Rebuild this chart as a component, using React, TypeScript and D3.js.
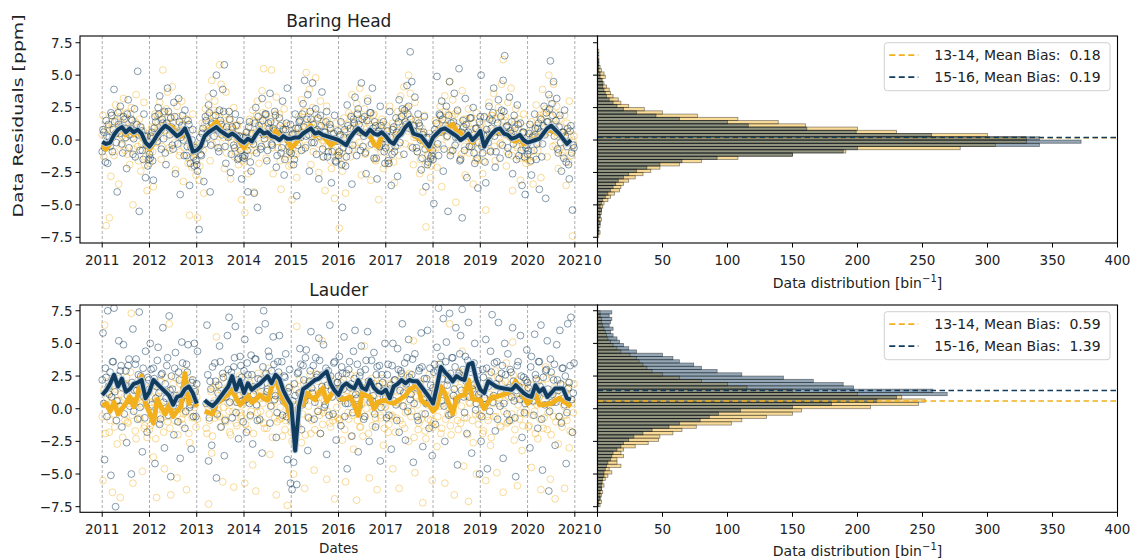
import * as d3 from "d3";
import { useEffect, useRef } from "react";

// ---- data ----
const YEARS = [2011, 2012, 2013, 2014, 2015, 2016, 2017, 2018, 2019, 2020];
const yearTicks = [2011, 2012, 2013, 2014, 2015, 2016, 2017, 2018, 2019, 2020, 2021];
const residualTicks = [-7.5, -5, -2.5, 0, 2.5, 5, 7.5];
const countTicks = [0, 50, 100, 150, 200, 250, 300, 350, 400];
const seriesNames = ["13-14", "15-16"];
const binStart = -7.5;
const binWidth = 0.25;

// monthly mean residuals, Jan 2011 .. Dec 2020
const bhYellowLine = [
  -0.4, -0.7, -0.3, 0.3, 0.9, 0.9, 0.4, 0.8, 0.4, 0.7, 0.3, -0.3,
  -0.7, -0.3, 0.3, 0.7, 1.0, 1.1, 0.9, 0.3, 0.3, 0.7, 0.1, -1.0,
  -0.8, -0.6, 0.2, 0.7, 1.1, 1.4, 0.9, 0.4, 0.2, 0.6, 0.2, -0.2,
  -0.6, 0.0, -0.2, 0.5, 0.9, 0.4, 0.5, 0.2, 0.7, 0.3, 0.3, 0.0,
  -0.6, -0.3, 0.1, 0.5, 0.8, 1.1, 0.3, 0.5, 0.3, 0.0, -0.4, -0.2,
  0.0, -0.3, -0.4, 0.2, 0.6, 0.8, 0.5, 0.6, 0.3, -0.3, -0.5, 0.4,
  0.2, -0.1, -0.2, 0.3, 0.6, 1.1, 1.3, 0.4, 0.2, 0.0, -0.3, -0.7,
  0.1, 0.4, 0.6, 0.8, 1.0, 1.2, 0.7, 0.5, 0.3, 0.2, -0.2, 0.2,
  0.5, -0.3, 0.2, 0.4, 0.7, 0.6, 0.5, 0.3, 0.0, -0.1, 0.2, -0.3,
  -0.2, 0.0, 0.1, 0.2, 0.5, 0.7, 0.8, 0.6, 0.4, 0.1, -0.2, -0.1,
];
const bhBlueLine = [
  -0.15, -0.3, -0.2, 0.4, 0.8, 1.0, 0.6, 0.9, 0.6, 0.8, 0.5, -0.2,
  -0.5, -0.1, 0.4, 0.8, 1.1, 0.9, 0.6, 0.3, 0.5, 0.9, 0.2, -0.9,
  -0.8, -0.5, 0.3, 0.6, 0.8, 1.0, 0.7, 0.5, 0.3, 0.5, 0.3, 0.0,
  -0.2, 0.1, -0.1, 0.4, 0.8, 0.5, 0.6, 0.3, 0.2, 0.0, 0.3, 0.1,
  0.1, 0.2, 0.2, 0.5, 0.7, 0.9, 0.5, 0.6, 0.4, 0.3, 0.2, 0.1,
  0.0, -0.2, -0.4, 0.2, 0.6, 0.9, 0.6, 0.4, 0.8, 0.5, 0.4, 0.6,
  0.3, -0.1, -0.3, 0.2, 0.5, 1.0, 1.3, 0.5, 0.4, 0.3, -0.1, -0.5,
  0.2, 0.5, 0.8, 0.9, 0.7, 0.5, 0.3, 0.0, 0.2, 0.5, 0.0, 0.3,
  0.7, -0.5, 0.1, 0.5, 0.8, 0.9, 0.5, 0.4, 0.1, 0.2, 0.4, 0.0,
  -0.2, -0.1, 0.0, 0.1, 0.5, 0.9, 1.1, 0.8, 0.5, 0.1, -0.3, 0.0,
];
const ldYellowLine = [
  0.2, 0.4, -0.2, 0.5, -0.4, 0.0, 0.4, 0.9, 0.15, 1.0, 2.5, 0.4,
  -0.3, -1.1, 0.7, 0.1, -0.4, 0.3, -0.6, -0.2, 0.15, 2.7, 0.4, 1.2,
  0.15, null, -0.2, -0.3, -0.4, 0.4, 0.6, 0.9, 1.1, 1.45, 0.8, 0.3,
  0.6, 1.05, 0.5, 0.7, 1.05, 0.8, 0.65, 1.6, 2.6, 1.4, 0.6, 0.15,
  -0.9, -0.5, 0.4, 0.3, 1.2, 0.9, 0.7, 1.2, 1.55, 0.55, 1.0, 1.45,
  1.0, 0.7, 0.8, 0.9, 0.3, -0.5, 1.2, 1.0, 0.9, 0.0, 0.5, 0.6,
  0.65, 0.5, 0.4, 0.6, 0.8, 1.0, 1.45, 1.6, 2.1, 0.65, 0.4, 0.3,
  -0.2, 0.15, 1.7, 1.2, 0.4, -0.35, 0.8, 1.0, 1.05, 2.2, 0.8, 0.7,
  0.65, 0.0, 0.5, 0.9, 0.9, 1.0, 1.1, 1.2, 1.55, 2.1, 1.5, 0.9,
  0.4, 0.8, 1.2, 0.3, 0.3, 0.35, 0.4, 0.6, 0.8, 0.6, 0.4, 0.15,
];
const ldBlueLine = [
  1.05, 1.4, 1.9, 2.6, 1.7, 2.3, 1.3, 1.5, 1.9, 2.0, 2.2, 0.8,
  1.3, 2.2, 1.9, 1.6, 1.3, 1.0, 0.3, 0.9, 1.0, 1.5, 1.7, 1.2,
  0.4, null, 0.65, 0.4, 0.2, 0.5, 0.9, 1.3, 1.7, 2.5, 1.45, 2.2,
  1.2, 1.95, 1.45, 1.7, 1.9, 2.2, 2.5, 1.95, 2.6, 2.3, 1.4, 0.8,
  0.3, -3.2, 0.2, 1.5, 1.7, 1.95, 2.2, 2.3, 2.6, 2.85, 1.9, 1.4,
  1.05, 1.7, 1.95, 1.7, 1.55, 2.2, 1.6, 1.45, 2.2, 1.6, 1.3, 1.2,
  1.45, 0.8, 1.7, 1.9, 2.2, 1.95, 2.2, 2.1, 2.1, 1.7, 1.3, 0.9,
  0.4, 1.7, 3.2, 2.8, 2.5, 2.1, 2.5, 2.3, 2.2, 3.4, 3.5, 2.2,
  1.45, 1.2, 2.1, 1.9, 1.7, 1.6, 1.55, 1.5, 1.45, 1.8, 1.5, 1.2,
  1.0, 0.9, 1.8, 1.3, 1.55, 0.9, 1.2, 1.55, 1.55, 1.55, 0.8, 0.7,
];

// individual residuals, one row per year, evenly spread through the year
const bhYellowPts = [
  [1.9, -0.4, -6.6, 0.9, -6.0, -2.8, 1.4, -1.2, 2.7, 0.6, -3.4, 1.8, 0.3, 3.2, -0.8, 2.1, 1.0, -1.9, 2.5, -5.0, 0.7, 3.5, -0.5, 1.6, -2.4, 0.2, 2.9, -1.3, -3.9, 0.5],
  [-0.9, 1.0, -3.6, 2.0, -0.2, 1.4, 2.9, -1.5, 5.4, 0.7, 2.4, 3.7, -0.6, 1.8, 4.1, 0.5, -2.3, 2.6, 1.2, -0.9, 3.0, -3.2, 0.4, 1.6, -1.8, -5.8, -0.4, 2.0, -1.1, -2.7],
  [-6.0, -3.1, -0.5, 1.3, -4.1, 2.4, 0.7, 3.3, -1.6, 4.6, 1.9, 3.0, -0.2, 2.2, 5.8, 4.3, 1.0, -2.2, 3.7, 0.4, 1.6, -3.0, 0.8, 2.5, -0.9, 1.2, -1.9, 0.3, -4.6, -0.7],
  [-5.6, 0.3, -2.6, 1.6, -0.8, 2.3, -4.0, 0.6, 3.0, -1.8, 1.4, 3.8, 5.5, 1.9, -0.3, 2.7, 0.7, 5.4, -2.6, 1.3, 3.3, -0.6, 2.0, -3.8, 0.9, 2.4, -1.3, 1.1, -2.0, 0.1],
  [-4.6, -1.2, 0.6, -2.9, 1.8, 0.3, 3.1, -0.7, 2.2, 5.2, 1.2, 3.9, -1.9, 2.5, 0.6, 4.8, 1.6, -2.5, 3.0, 0.0, 1.4, -3.9, 2.6, -0.5, 1.0, -2.2, 0.4, -4.5, 1.3, -1.0],
  [-6.8, 0.8, -2.4, 1.7, -4.1, 0.1, 2.1, -1.3, 3.5, 0.9, -0.4, 2.8, 1.5, 4.0, -2.7, 0.6, 2.4, -0.9, 3.2, 1.2, -3.1, 0.5, 2.0, -1.6, 1.1, -4.6, -0.2, 1.6, -2.2, 0.3],
  [1.1, -1.8, 2.6, -0.5, 1.3, -3.3, 0.4, 2.2, -1.2, 3.4, 1.0, 4.1, -0.3, 2.5, 5.0, 3.6, 0.8, -1.9, 2.9, 0.2, 1.5, -2.6, 0.6, -4.0, 1.9, -6.7, -1.1, 0.5, -2.9, -0.4],
  [-0.6, 1.5, -2.1, 0.8, 2.6, -3.6, 1.3, 3.4, 0.2, 2.0, 4.5, -0.9, 3.1, 1.1, -4.8, 2.2, 0.6, -1.4, 3.8, 1.6, -2.7, 0.9, 2.4, -0.5, 1.7, -3.4, 0.4, 2.1, -1.5, 0.7],
  [0.9, -2.6, 1.7, -5.4, 0.3, 2.9, -0.8, 1.9, 3.6, -1.6, 0.6, 2.5, -0.3, 4.3, 6.2, 1.5, -2.0, 2.9, 0.4, 4.0, -3.9, 1.2, 2.4, -0.6, 1.6, -3.1, 0.5, 2.0, -1.4, -0.2],
  [0.2, -1.7, 1.4, -3.4, 0.7, 2.7, -0.8, 1.9, -2.9, 3.9, 0.5, 2.4, -1.3, 5.0, 3.2, 1.2, 4.3, -0.4, 2.6, -2.2, 1.6, 0.4, -1.0, 1.9, -3.5, 0.6, 3.0, -1.2, -7.4, 0.3],
];
const bhYellowDense = [
  [0.4, -1.3, -0.6, 1.1, -0.2, 0.8, 1.9, 0.3, -0.9, 1.5, 0.6, 2.2, -0.4, 1.2, 0.1, 1.7, -1.1, 0.9, 2.0, 0.2, -0.7, 1.4, 0.5, -1.6, 1.0, -0.3, 0.7, -1.9, 0.2, -0.8],
  [-1.8, 0.2, -0.9, 1.0, 0.4, 1.9, 0.8, 1.5, -0.5, 2.1, 1.1, 0.3, 1.7, -0.8, 0.9, 1.3, -0.2, 0.6, 1.8, -1.2, 0.4, 1.2, -0.6, 1.6, 0.1, -1.4, 0.7, -2.1, -0.5, -1.0],
  [-1.5, -0.4, -2.0, 0.6, -0.8, 1.2, 0.3, 1.9, 0.9, 1.4, -0.3, 2.3, 1.1, 0.5, 1.8, -0.6, 1.3, 0.2, 2.0, -1.0, 0.8, 1.5, -0.2, 0.9, -1.3, 0.4, 1.1, -0.7, 0.3, -1.6],
  [-1.7, -0.5, 0.6, -1.2, 0.9, 0.1, 1.5, -0.8, 1.9, 0.4, -0.3, 1.2, 2.1, 0.6, -1.4, 1.0, 0.3, 1.6, -0.6, 0.8, 2.0, -0.1, 0.5, -1.6, 1.3, -0.4, 0.7, -1.1, 0.2, -0.7],
  [-1.9, -0.6, 0.4, -1.1, 0.9, -0.2, 1.6, 0.6, 2.2, 1.0, -0.4, 1.8, 0.3, 1.3, -0.9, 0.7, 2.0, -0.3, 1.1, 0.2, -1.3, 0.8, -0.5, 1.5, -0.1, -1.6, 0.5, -0.8, 0.1, -1.2],
  [-1.4, 0.3, -1.0, -1.8, 0.6, -0.3, 1.2, 0.2, 1.9, -0.7, 1.4, 0.8, 2.1, -0.2, 1.0, 0.5, 1.7, -1.1, 0.9, 1.5, -0.4, 0.6, 1.9, -1.5, 0.2, -0.6, 1.3, -0.9, 0.7, 0.1],
  [-0.2, 0.9, -1.4, -0.6, 0.8, -1.7, 0.3, 1.2, -0.4, 1.7, 0.6, 2.0, 1.3, 2.4, 0.7, 1.8, -0.5, 1.1, 0.2, 1.5, -0.9, 0.6, -1.5, 0.9, -0.3, -1.9, 0.1, -1.2, -0.6, -2.0],
  [-1.3, 0.4, -0.6, 1.2, 0.7, 1.9, -0.4, 1.5, 2.2, 0.3, 1.1, -0.8, 1.8, 0.6, 2.0, -0.2, 1.3, 0.5, -1.1, 0.9, -0.5, 1.6, 0.1, -1.0, 0.8, -0.3, 1.3, -1.6, 0.4, -0.7],
  [1.2, -0.3, -1.6, 0.5, -0.8, 1.3, 0.2, 1.9, 0.7, -0.5, 1.6, 0.9, 2.1, -0.2, 1.4, 0.4, 1.8, -0.9, 1.0, 0.3, -1.2, 0.6, 1.5, -0.4, 0.8, -1.4, 0.2, -0.6, 1.0, -1.8],
  [-1.5, 0.2, -0.9, 0.8, -1.3, 0.4, 1.1, -0.2, 1.7, 0.5, 2.0, 0.9, 1.4, 2.3, 0.6, 1.8, -0.5, 1.2, 2.0, 0.3, -0.8, 1.0, -1.2, 0.6, -0.3, 1.3, -1.7, 0.4, -0.9, -0.2],
];
const bhBluePts = [
  [0.8, -0.6, 1.5, -1.8, 0.2, 2.1, -0.9, 3.9, 0.5, -4.0, 1.2, 2.6, -0.3, 1.8, 0.9, -2.2, 3.1, 0.4, 1.6, -1.1, 2.4, 0.7, 5.3, -5.5, 1.0, -0.8, 2.0, -2.9, 0.3, -1.5],
  [-1.4, 0.6, -3.1, 1.8, 0.2, 2.5, 3.4, -0.7, 1.3, 2.2, -1.9, 4.0, 0.9, 1.7, -0.4, 2.9, -2.6, 0.6, 3.2, -4.2, 1.1, 0.0, 2.3, -1.2, 1.5, -3.5, -0.6, 0.8, -2.0, -1.6],
  [-2.4, -6.9, -1.1, 0.5, -3.2, 1.8, 0.2, 2.7, -4.0, 1.3, 3.6, 0.9, 5.0, -0.6, 2.3, 1.2, 3.9, 5.8, -1.8, 0.6, 2.2, -2.5, 1.0, -0.4, 2.0, 0.3, -1.4, 1.5, -3.0, 0.2],
  [-1.2, 0.6, -4.0, 1.4, -2.4, 0.0, -4.1, 2.5, -5.2, 1.1, -0.7, 3.2, 0.4, 2.0, -1.6, 1.3, 3.6, -0.3, 0.9, 2.2, -2.1, 0.5, 1.7, -1.0, 3.0, -2.7, 0.8, 4.0, -0.5, 1.2],
  [0.4, -1.9, 2.0, -4.3, 0.9, 1.5, -0.8, 2.8, 4.6, 0.3, 3.5, -2.4, 1.6, 4.4, -0.2, 2.4, 0.8, -3.0, 1.9, 3.7, -1.3, 0.6, 2.2, -0.9, 1.2, -3.3, 0.1, 1.9, -1.7, 0.7],
  [-0.9, 1.4, -5.2, 0.2, -2.0, 2.7, -0.8, 0.9, -3.4, 1.6, 3.3, -1.2, 2.4, 0.6, 4.4, -0.5, 1.8, -2.6, 3.0, 0.4, 2.1, 4.0, -1.4, 1.1, -3.0, 0.7, 2.6, -0.3, 1.4, -1.8],
  [0.3, -1.6, 2.2, -3.5, 0.8, -0.9, 1.7, -2.8, 3.1, 0.5, 2.4, -1.1, 1.4, 4.2, 2.6, 6.8, 4.5, 0.7, 3.3, -0.6, 2.0, 1.1, -2.3, 0.4, 1.8, -3.6, -1.9, 0.2, -1.4, -0.8],
  [-4.9, 0.5, 4.9, -1.2, 1.9, 3.0, -2.4, 0.8, 2.6, -5.5, 4.5, 1.3, -0.8, 3.6, 0.2, 2.3, 5.5, -1.5, -6.0, 1.0, 3.2, -2.9, 0.6, 1.7, -0.5, 2.5, -1.8, 0.9, -3.7, 1.4],
  [5.0, -1.0, 1.8, -3.3, 0.4, 2.6, -0.9, 1.5, 4.0, -2.1, 0.7, 3.1, -1.4, 2.3, 4.6, 6.5, 1.0, -0.6, 3.3, 0.5, -2.6, 1.9, 0.2, 2.7, -1.2, 1.3, -3.5, 0.6, -4.2, -0.4],
  [-0.8, 1.2, -2.7, 0.3, 2.0, -1.5, 0.9, -3.8, 1.6, -0.3, 2.6, -4.5, 1.4, 3.5, 6.1, 2.8, 4.5, 0.8, 3.2, -1.0, 1.9, -2.4, 0.6, 2.3, -1.7, 0.9, -3.0, 1.1, -5.4, -0.6],
];
const bhBlueDense = [
  [-0.9, 0.6, -1.7, 0.3, 1.2, -0.5, 1.9, 0.8, 1.4, -0.2, 2.1, 0.5, 1.0, -1.0, 1.6, 0.2, 2.0, -0.6, 0.9, 1.5, 0.1, -1.3, 1.2, 0.4, -0.8, 0.7, -1.5, 0.3, -0.4, -2.0],
  [-1.1, 0.3, -1.6, 0.9, 1.4, -0.1, 2.0, 0.7, 1.6, 0.1, -1.0, 1.3, 2.2, 0.4, 1.0, -0.7, 1.8, 0.5, -0.3, 1.4, 0.2, 1.9, -1.2, 0.8, -0.5, 1.2, -1.8, 0.0, -1.3, -0.6],
  [-1.9, -0.7, 0.2, -1.2, 0.9, -0.3, 1.5, 0.6, 2.1, -0.4, 1.2, 0.3, 1.9, 0.8, -0.9, 1.5, 0.4, 2.2, -0.5, 1.0, 0.2, 1.6, -1.1, 0.5, -0.6, 1.1, -1.5, 0.3, -0.8, -1.3],
  [-1.4, 0.2, -0.8, 1.0, -1.7, 0.5, -0.3, 1.3, -1.0, 1.8, 0.6, -0.5, 1.5, 0.1, 2.0, -0.8, 0.9, 1.4, -0.4, 0.7, 1.9, -1.2, 0.4, 1.1, -0.6, 0.8, -1.5, 1.3, 0.0, -0.9],
  [-1.0, 0.5, -1.5, 0.9, -0.4, 1.4, 0.2, 2.0, 1.0, -0.6, 1.6, 0.4, 2.2, -0.2, 1.2, 0.7, -1.1, 1.7, 0.3, 1.1, -0.7, 0.6, 1.4, -1.3, 0.2, 0.9, -0.9, 0.5, -1.6, -0.1],
  [-1.2, 0.4, -1.9, -0.6, 0.8, -1.3, 1.1, 0.2, 1.8, -0.4, 1.3, 0.7, 2.0, 1.2, -0.8, 1.6, 0.3, -1.0, 1.5, 0.6, 2.1, -0.3, 0.9, 1.4, -1.4, 0.5, -0.5, 1.1, 0.1, -0.9],
  [-0.6, 0.7, -1.8, 0.2, -1.1, 1.0, -0.5, 0.6, 1.4, -0.2, 1.8, 0.8, 2.3, 1.2, 2.0, 0.9, 1.6, -0.6, 1.1, 0.4, -0.9, 1.3, 0.0, -1.4, 0.6, -0.7, 0.2, -1.7, -0.3, -1.2],
  [-1.5, 0.8, 1.3, -0.3, 2.0, 0.6, 1.6, -0.7, 1.1, 0.3, 1.9, -1.2, 0.8, 1.4, -0.4, 1.0, 0.2, -1.6, 0.6, 1.5, -0.8, 1.2, 0.3, -0.5, 1.7, 0.1, -1.0, 0.9, -1.4, -0.2],
  [1.8, -0.5, 0.4, -1.7, 0.8, -0.2, 1.6, 0.9, 2.1, 0.3, -0.9, 1.3, 0.6, 1.8, -0.4, 2.2, 0.5, 1.1, -1.1, 0.7, 1.4, -0.3, 0.9, -1.5, 1.2, 0.0, -0.8, 0.6, -1.3, -0.6],
  [-1.1, 0.5, -1.6, 0.2, -0.8, 0.9, -0.3, 1.3, 0.6, -1.3, 1.1, 0.4, 2.1, 1.4, 2.4, 0.8, 1.9, 0.3, 1.5, -0.7, 1.0, -0.2, 0.6, -1.4, 0.3, -0.5, -1.9, 0.7, -1.0, -0.4],
];
const ldYellowPts = [
  [-5.5, 6.4, 0.3, 1.2, -1.8, 0.9, -6.4, -0.4, 1.5, -2.7, 0.6, -6.8, 0.2, 1.9, -0.9, 2.4, -1.1, 0.8, 7.3, -5.7, 0.6, -2.3, 1.8, -0.7, 0.4, -4.8, -1.5, 0.9, -2.2, 1.2],
  [-1.3, 0.9, -3.7, 0.4, -6.8, 1.7, -0.5, 2.1, -0.2, -4.6, 1.3, -1.0, 6.5, -6.6, -0.2, 0.8, 2.4, -5.3, -1.0, 1.9, -0.8, -0.4, 2.9, -6.2, 0.6, -2.6, 1.3, -0.6, 0.1, -1.4],
  [-0.8, null, null, null, null, null, -1.9, -7.3, 0.3, -3.4, 1.6, -0.7, 5.5, -0.1, -0.6, 1.4, -5.6, 0.9, -1.0, 2.5, -0.2, -2.0, 1.8, -6.0, 0.5, -1.3, 1.9, -0.3, -0.5, 1.2],
  [-5.7, 0.7, -1.6, 2.0, -0.2, -4.3, 1.4, -6.3, -0.3, 1.2, -0.2, 0.8, -1.1, 2.6, -1.5, 3.1, -3.5, 0.2, 1.6, -0.7, -6.6, 0.9, -0.8, 1.4, -2.1, 1.3, -0.9, -7.4, 0.4, -1.0],
  [-2.5, -5.0, 0.3, 6.3, -1.4, 1.2, -2.6, 0.8, -6.1, 1.7, -0.6, 2.0, -1.9, 1.1, -4.7, 2.7, -0.2, 0.4, -1.9, 5.2, -0.3, 1.6, -5.4, 0.9, -1.1, 2.1, -0.9, -6.9, 1.5, -0.7],
  [-0.9, 2.0, -2.4, 0.6, -5.6, 1.4, -0.8, 2.6, -0.5, -3.1, 1.0, -7.0, 1.6, -1.4, 0.3, -2.1, 4.8, 0.0, 1.8, -5.3, 0.5, -1.3, 1.9, -0.7, -6.2, 1.2, -0.5, 2.3, -2.8, 0.1],
  [0.8, -1.8, 1.9, -0.6, -4.6, 1.4, -0.7, 0.5, -6.1, 2.0, -1.2, 1.3, -0.3, 2.5, -2.5, 1.8, -0.2, 5.2, -4.9, 0.9, -1.6, 2.1, -0.8, -7.2, 1.1, -2.3, 0.3, 2.6, -0.9, -5.5],
  [-1.0, 1.6, -2.9, 3.4, 0.2, -1.5, 2.7, -5.7, 1.0, -0.4, 6.5, -2.0, 0.6, -6.6, 2.3, -0.9, 2.8, -1.1, 4.4, -4.4, 1.3, -0.7, -7.1, 0.4, 1.9, -2.6, 0.8, -5.0, 1.7, -0.5],
  [0.3, -1.9, 1.5, -5.5, -0.6, 2.6, -2.8, 0.9, -0.6, 2.9, -4.9, 0.4, -1.3, 1.9, -6.4, 0.6, 3.5, -1.0, 1.2, -0.9, 5.1, -2.4, 0.8, -5.9, 2.2, -0.3, -3.2, 1.6, -0.4, 2.0],
  [-1.4, 1.1, -4.5, 0.5, -0.2, 2.2, -2.3, 0.9, -6.2, 1.8, -0.7, 3.2, -1.6, 0.3, -5.4, 2.4, -0.6, -6.9, 1.0, -2.7, 0.6, -1.0, 1.8, -6.1, -0.5, 1.5, -3.0, 0.7, -1.8, 1.9],
];
const ldYellowDense = [
  [-0.6, 1.4, -1.9, 0.8, 2.1, -0.9, 0.3, 1.7, -1.4, 0.6, 2.3, -0.3, 1.1, -2.2, 0.9, 1.9, -1.0, 0.4, 2.8, -0.5, 1.5, -1.7, 0.7, 2.2, -0.8, 0.2, 1.3, -1.3, 0.5, 1.6],
  [-1.6, 0.5, -0.4, 1.8, -2.3, 0.9, -1.1, 1.4, 0.2, -1.8, 2.4, -0.6, 1.2, -1.5, 0.4, 1.9, -0.9, 0.7, -2.0, 1.1, 0.0, -1.2, 1.6, -0.3, 0.8, -1.9, 2.2, -0.7, 0.3, 1.5],
  [0.9, null, null, null, null, null, -1.5, 0.2, -0.9, 1.3, -2.1, 0.6, 1.8, -0.5, 1.0, -1.4, 2.3, 0.1, -0.8, 1.6, 0.4, -1.8, 2.0, -0.2, 1.2, -1.1, 0.7, 2.5, -0.6, 0.3],
  [1.2, -1.2, 0.5, 2.3, -0.6, 1.0, -1.9, 1.6, 0.2, 2.7, -0.9, 1.3, 0.4, -1.5, 2.0, 0.8, -0.4, 1.8, -2.2, 0.6, 1.4, -1.0, 2.5, 0.1, -0.7, 1.1, -1.6, 0.9, -0.3, 1.7],
  [-1.8, 0.3, -0.7, 1.5, -1.3, 2.2, 0.5, -0.4, 1.9, -2.0, 1.0, 0.2, 2.6, -0.9, 1.4, -1.6, 0.8, 2.1, -0.5, 1.2, -1.2, 0.6, 1.8, -0.2, 2.4, -1.4, 0.9, -0.6, 1.3, 0.1],
  [1.5, -0.8, 0.6, 2.2, -1.6, 0.9, -0.3, 1.7, -2.1, 1.1, 0.3, 2.5, -0.9, 1.3, -1.4, 0.5, 2.0, -0.6, 1.6, -1.9, 0.8, 2.3, -0.2, 1.0, -1.2, 0.4, 1.9, -0.7, 1.2, -1.5],
  [0.2, 1.6, -1.2, 0.9, -0.5, 2.1, -1.8, 1.3, 0.4, -0.9, 2.4, 0.7, -1.5, 1.8, 0.1, 2.7, -0.6, 1.5, -2.2, 1.0, 0.3, -1.1, 1.9, -0.4, 0.8, -1.7, 1.2, -0.8, 0.5, -1.3],
  [-1.4, 0.7, 2.2, -0.6, 1.5, -1.9, 0.4, 1.8, -0.8, 2.6, 0.1, -1.3, 1.2, -0.3, 2.0, 0.6, -1.6, 1.6, 0.2, 2.8, -0.7, 1.0, -2.0, 0.5, 1.7, -0.9, 1.3, -0.4, 0.8, -1.2],
  [-0.5, 1.3, -1.7, 0.6, 2.0, -0.9, 1.1, -2.2, 0.4, 1.7, -0.6, 2.4, 0.8, -1.4, 1.5, -0.2, 2.1, -1.1, 0.9, 1.8, -0.4, 2.6, -1.6, 1.2, 0.3, -0.8, 1.6, -1.3, 0.7, -0.1],
  [0.6, -1.3, 1.8, -0.5, 1.1, -1.9, 0.3, 2.1, -0.8, 1.4, -1.5, 0.7, 2.3, -0.3, 1.2, -2.0, 0.5, 1.6, -1.0, 0.9, -0.6, 1.9, -1.4, 0.2, 1.3, -0.9, 2.0, -1.7, 0.4, -0.3],
];
const ldBluePts = [
  [5.8, -3.9, 2.4, 7.5, 1.1, -5.1, 3.6, 7.7, -7.5, 0.6, 5.2, 2.9, -1.4, 4.9, 1.8, -2.6, 3.3, 0.2, -5.0, 6.1, 1.4, 3.8, -0.8, 7.4, 2.5, -3.3, 0.9, 4.4, -1.8, 2.2],
  [5.0, 0.3, 3.1, -4.2, 1.7, 4.7, -1.2, 2.6, 6.2, -3.0, 0.8, 3.9, 7.1, -5.2, 1.5, -2.0, 4.3, 0.5, 2.8, -3.8, 5.1, 1.0, -1.5, 3.4, 4.9, 0.1, -3.1, 2.2, 5.0, -0.6],
  [4.4, null, null, null, null, null, 6.4, -4.0, 2.1, -2.8, 0.4, 3.5, -5.3, 1.2, 4.8, -1.4, 2.7, -3.6, 0.9, 5.6, 7.0, 1.8, -0.7, 3.2, 6.3, 0.5, -2.3, 4.0, 2.4, -1.0],
  [5.3, -1.8, 2.6, 0.4, 4.1, -2.7, 1.7, 3.8, -0.9, 6.0, 2.2, -3.4, 7.5, 6.5, 1.3, 4.4, -1.1, 2.9, 5.5, 0.7, -2.2, 3.6, 5.6, 1.0, -0.5, 2.5, 4.2, -3.9, 1.6, -5.7],
  [-6.2, -4.1, 1.0, -5.8, 2.8, 4.6, -1.6, 3.3, 0.6, 4.5, -3.2, 2.1, 5.9, 1.2, -0.8, 3.9, 2.6, 5.4, -1.9, 1.7, 4.9, 0.3, -3.5, 2.9, 6.4, 1.4, -0.4, 3.6, -2.4, 2.0],
  [4.0, -1.3, 2.7, 5.5, 0.4, -4.6, 3.0, 1.6, -2.1, 4.4, 6.0, 0.8, -3.3, 2.5, 4.8, 1.1, -0.6, 3.7, 5.9, -2.5, 2.0, 0.6, 4.3, -1.4, 3.2, 1.7, -4.0, 2.6, 0.9, 5.0],
  [-0.7, 3.4, 1.5, -3.1, 5.0, 2.2, 0.3, 4.6, -1.8, 2.9, 6.5, 1.2, -2.4, 3.9, 5.3, 0.7, 2.6, -4.1, 4.2, 1.6, -0.9, 3.1, 5.8, -2.9, 2.3, 0.4, 6.0, -1.5, 1.8, -3.6],
  [2.8, -1.2, 4.7, 7.7, 3.4, 0.6, 6.9, -2.5, 5.1, 2.2, 7.3, -0.4, 3.9, 1.5, 6.2, -4.3, 2.7, 5.6, 7.6, 0.9, 4.0, -1.9, 6.6, 3.1, -3.4, 1.8, 5.0, 0.4, 2.9, -5.0],
  [-2.5, 3.0, 0.8, 5.3, -4.6, 2.1, 4.4, 7.2, 1.0, -1.7, 3.6, 6.6, 0.2, 2.7, -3.8, 5.0, 1.5, 4.2, -0.9, 2.8, 6.2, 0.6, -5.2, 3.3, 1.7, 5.6, -2.2, 2.4, 0.4, 4.5],
  [1.6, -3.0, 4.0, 0.6, 5.7, 2.3, -1.5, 3.6, 6.4, -4.7, 1.2, 2.9, 5.2, -6.3, 3.8, 0.5, 2.2, -2.8, 4.9, 1.4, 6.0, -1.1, 3.1, 0.3, -4.2, 6.5, 2.0, 7.0, -1.8, 3.5],
];
const ldBlueDense = [
  [2.2, 0.4, 3.1, -0.6, 1.7, 2.8, 0.9, 3.6, 1.3, -0.9, 2.5, 0.2, 3.3, 1.6, -0.4, 2.9, 1.0, 3.8, 0.6, 2.0, -0.2, 3.4, 1.4, 2.6, 0.1, 1.9, 3.1, -0.7, 1.2, 2.4],
  [1.5, 3.0, -0.3, 2.3, 0.8, 3.7, 1.2, -0.8, 2.7, 0.5, 1.9, 3.3, -0.5, 1.4, 2.5, 0.2, 3.1, 1.0, -1.0, 2.2, 0.7, 3.5, 1.6, -0.2, 2.8, 1.1, 0.3, 2.0, -0.6, 1.3],
  [1.9, null, null, null, null, null, 0.4, 2.6, -0.7, 1.5, 3.2, 0.1, 2.1, -0.4, 1.8, 3.6, 0.8, 2.4, -0.9, 1.2, 3.0, 0.5, 2.8, 1.4, 3.9, -0.3, 2.2, 1.0, 3.3, 0.6],
  [2.9, 0.7, 3.5, 1.4, -0.5, 2.6, 1.1, 3.8, 0.3, 2.3, -0.8, 1.8, 3.2, 0.9, 2.7, 1.5, 4.0, 0.2, 2.1, 3.4, 1.0, -0.3, 2.8, 1.6, 3.6, 0.6, 2.4, -0.6, 1.3, 3.0],
  [-0.9, 0.6, 1.9, -0.4, 2.7, 1.2, 3.4, 0.3, 2.2, 3.9, 1.0, -0.7, 2.9, 1.6, 3.3, 0.5, 2.4, -0.2, 3.7, 1.3, 2.6, 0.1, 3.1, 1.8, -0.5, 2.5, 0.9, 3.5, 1.4, 2.0],
  [2.5, 0.8, 3.2, 1.5, -0.6, 2.7, 0.4, 3.6, 1.9, -0.3, 2.3, 1.1, 3.4, 0.2, 2.8, 1.6, -0.8, 3.0, 1.3, 2.1, 0.5, 3.7, 1.0, -0.4, 2.6, 1.7, 3.3, 0.1, 2.0, 1.4],
  [0.9, 2.6, -0.5, 1.8, 3.3, 0.6, 2.2, -0.9, 3.0, 1.4, 2.7, 0.2, 3.5, 1.9, -0.2, 2.4, 1.1, 3.8, 0.4, 2.0, -0.6, 2.9, 1.5, 3.2, 0.7, -0.4, 2.3, 1.2, 3.1, 0.3],
  [1.6, 3.4, 0.5, 2.9, 1.2, 4.0, 2.3, 0.2, 3.6, 1.8, -0.5, 2.7, 3.9, 1.0, 3.2, 0.7, 2.5, 4.2, 1.4, 3.0, -0.3, 2.1, 3.7, 0.9, 2.8, 1.5, 3.5, -0.1, 2.2, 1.1],
  [1.3, -0.6, 2.4, 0.8, 3.1, 1.7, -0.2, 2.8, 0.5, 3.5, 1.9, -0.8, 2.3, 1.2, 3.3, 0.4, 2.6, -0.4, 1.6, 3.0, 0.9, 2.1, -0.7, 1.4, 3.6, 0.7, 2.5, 1.0, -0.3, 2.2],
  [2.0, 0.6, 3.2, 1.3, -0.5, 2.6, 0.9, 3.6, 1.7, -0.8, 2.4, 0.3, 3.0, 1.5, -0.2, 2.8, 1.1, 3.4, 0.5, 2.2, -0.6, 1.9, 3.1, 0.8, 2.5, -0.3, 1.6, 3.3, 0.7, 1.2],
];

// histogram counts, 0.25 ppm bins from -7.5 up to 7.5
const bhYellowHist = [
  1, 2, 1, 2, 2, 3, 2, 3, 3, 4,
  5, 8, 10, 13, 17, 18, 20, 24, 29, 35, 41, 48,
  63, 80, 108, 150, 191, 279, 306, 330, 330, 300, 230, 200,
  160, 139, 108, 77, 50, 36, 24, 18, 16, 12, 10, 9,
  7, 5, 4, 6, 5, 3, 2, 1, 1, 1, 0, 1, 0, 0,
];
const bhBlueHist = [
  0, 1, 1, 1, 2, 1, 2, 2, 3, 2,
  3, 4, 6, 8, 10, 12, 14, 16, 20, 24, 30, 38,
  48, 65, 92, 150, 189, 200, 340, 372, 340, 257, 199, 161,
  116, 100, 63, 45, 30, 20, 15, 12, 9, 7, 6, 5,
  4, 4, 3, 2, 2, 1, 1, 1, 1, 0, 1, 0, 0, 0,
];
const ldYellowHist = [
  2, 3, 2, 3, 4, 3, 5, 4, 6, 8,
  11, 9, 18, 15, 15, 20, 18, 20, 29, 39, 47, 48,
  58, 65, 76, 103, 111, 130, 150, 157, 210, 247, 252, 234,
  200, 150, 115, 100, 80, 63, 50, 42, 38, 35, 32, 30,
  25, 18, 15, 12, 10, 8, 7, 6, 5, 4, 3, 3, 2, 2,
];
const ldBlueHist = [
  1, 1, 2, 2, 2, 3, 3, 3, 4, 5,
  5, 6, 7, 8, 10, 11, 12, 15, 18, 20, 24, 28,
  35, 42, 55, 63, 79, 86, 93, 110, 150, 180, 215, 230,
  269, 258, 197, 189, 166, 143, 111, 92, 80, 74, 63, 58,
  50, 30, 24, 20, 17, 15, 12, 10, 12, 9, 10, 11, 9, 11,
];

const bhBias = [0.18, 0.19];
const ldBias = [0.59, 1.39];

const YELLOW = "#f2b01c";
const BLUE = "#123c5e";
const FONT = "DejaVu Sans, Verdana, sans-serif";

export default function App() {
  const ref = useRef<SVGSVGElement | null>(null);

  useEffect(() => {
    if (!ref.current) return;
    const svg = d3.select(ref.current);
    svg.selectAll("*").remove();

    const xT = d3.scaleLinear().domain([2010.53, 2021.48]).range([80, 597.5]);
    const xC = d3.scaleLinear().domain([0, 400]).range([597.5, 1117.5]);

    const panels = [
      {
        key: "bh", title: "Baring Head", top: 36, bottom: 243, dom: [-7.94, 8.02],
        yPts: bhYellowPts, yDense: bhYellowDense, bPts: bhBluePts, bDense: bhBlueDense,
        yLine: bhYellowLine, bLine: bhBlueLine,
        yHist: bhYellowHist, bHist: bhBlueHist, bias: bhBias,
        titleY: 27, tickY: 265, xlabY: 288, dates: false,
      },
      {
        key: "ld", title: "Lauder", top: 305, bottom: 512.3, dom: [-7.93, 7.94],
        yPts: ldYellowPts, yDense: ldYellowDense, bPts: ldBluePts, bDense: ldBlueDense,
        yLine: ldYellowLine, bLine: ldBlueLine,
        yHist: ldYellowHist, bHist: ldBlueHist, bias: ldBias,
        titleY: 296, tickY: 534, xlabY: 556, dates: true,
      },
    ];

    const defs = svg.append("defs");

    panels.forEach((p) => {
      const y = d3.scaleLinear().domain(p.dom).range([p.bottom, p.top]);
      const [L0, L1] = xT.range();
      const [R0, R1] = xC.range();

      defs.append("clipPath").attr("id", `clipL-${p.key}`)
        .append("rect").attr("x", L0).attr("y", p.top).attr("width", L1 - L0).attr("height", p.bottom - p.top);
      defs.append("clipPath").attr("id", `clipR-${p.key}`)
        .append("rect").attr("x", R0).attr("y", p.top).attr("width", R1 - R0).attr("height", p.bottom - p.top);

      // ---- left: time series ----
      const gl = svg.append("g").attr("clip-path", `url(#clipL-${p.key})`);

      gl.selectAll("line.grid").data(yearTicks).enter().append("line")
        .attr("x1", d => xT(d)).attr("x2", d => xT(d))
        .attr("y1", p.top).attr("y2", p.bottom)
        .attr("stroke", "#8a8a8a").attr("stroke-width", 0.7).attr("stroke-dasharray", "3,2");

      const pts = (rows: (number | null)[][], offset: number) =>
        rows.flatMap((row, yi) =>
          row.map((v, i) => ({ t: YEARS[yi] + (i + offset) / row.length, v }))
        ).filter(d => d.v != null) as { t: number; v: number }[];

      const scatter = (data: { t: number; v: number }[], col: string, op: number) => {
        gl.append("g").selectAll("circle").data(data).enter().append("circle")
          .attr("cx", d => xT(d.t)).attr("cy", d => y(d.v)).attr("r", 3.4)
          .attr("fill", "none").attr("stroke", col).attr("stroke-opacity", op).attr("stroke-width", 1);
      };
      scatter([...pts(p.yPts, 0.5), ...pts(p.yDense, 0)], YELLOW, 0.45);
      scatter([...pts(p.bPts, 0.5), ...pts(p.bDense, 0)], BLUE, 0.5);

      const monthly = (arr: (number | null)[]) =>
        arr.map((v, i) => ({ t: 2011 + i / 12, v }));
      const line = d3.line<{ t: number; v: number | null }>()
        .defined(d => d.v != null)
        .x(d => xT(d.t)).y(d => y(d.v as number));

      gl.append("path").attr("d", line(monthly(p.yLine)))
        .attr("fill", "none").attr("stroke", YELLOW).attr("stroke-width", 5).attr("stroke-linejoin", "round");
      gl.append("path").attr("d", line(monthly(p.bLine)))
        .attr("fill", "none").attr("stroke", "#b8cde0").attr("stroke-width", 6).attr("stroke-linejoin", "round");
      gl.append("path").attr("d", line(monthly(p.bLine)))
        .attr("fill", "none").attr("stroke", BLUE).attr("stroke-width", 4).attr("stroke-linejoin", "round");

      // ---- right: histograms ----
      const gr = svg.append("g").attr("clip-path", `url(#clipR-${p.key})`);
      const bins = (counts: number[]) =>
        counts.map((c, i) => ({ lo: binStart + i * binWidth, c }));
      [[p.yHist, YELLOW], [p.bHist, BLUE]].forEach(([counts, col]) => {
        gr.append("g").selectAll("rect").data(bins(counts as number[])).enter().append("rect")
          .attr("x", xC(0))
          .attr("width", d => xC(d.c) - xC(0))
          .attr("y", d => y(d.lo + binWidth))
          .attr("height", d => y(d.lo) - y(d.lo + binWidth))
          .attr("fill", col as string).attr("fill-opacity", 0.45)
          .attr("stroke", "#000").attr("stroke-opacity", 0.45).attr("stroke-width", 0.8);
      });
      [YELLOW, BLUE].forEach((col, i) => {
        gr.append("line")
          .attr("x1", R0).attr("x2", R1)
          .attr("y1", y(p.bias[i])).attr("y2", y(p.bias[i]))
          .attr("stroke", col).attr("stroke-width", 1.6).attr("stroke-dasharray", "5.5,3.5");
      });

      // ---- frames & axes ----
      [[L0, L1], [R0, R1]].forEach(([a, b]) => {
        svg.append("rect").attr("x", a).attr("y", p.top).attr("width", b - a).attr("height", p.bottom - p.top)
          .attr("fill", "none").attr("stroke", "#000").attr("stroke-width", 1.1);
      });

      const tickLen = 4.5;
      residualTicks.forEach((v) => {
        [L0, R0].forEach((x0) => {
          svg.append("line").attr("x1", x0 - tickLen).attr("x2", x0).attr("y1", y(v)).attr("y2", y(v))
            .attr("stroke", "#000").attr("stroke-width", 1);
        });
        svg.append("text").attr("x", L0 - 7.5).attr("y", y(v)).attr("dy", "0.36em")
          .attr("text-anchor", "end").attr("font-family", FONT).attr("font-size", 13.5).attr("fill", "#222")
          .text(v < 0 ? "\u2212" + Math.abs(v).toFixed(1) : v.toFixed(1));
      });
      yearTicks.forEach((yr) => {
        svg.append("line").attr("x1", xT(yr)).attr("x2", xT(yr)).attr("y1", p.bottom).attr("y2", p.bottom + tickLen)
          .attr("stroke", "#000").attr("stroke-width", 1);
        svg.append("text").attr("x", xT(yr)).attr("y", p.tickY).attr("text-anchor", "middle")
          .attr("font-family", FONT).attr("font-size", 13.5).attr("fill", "#222").text(String(yr));
      });
      countTicks.forEach((c) => {
        svg.append("line").attr("x1", xC(c)).attr("x2", xC(c)).attr("y1", p.bottom).attr("y2", p.bottom + tickLen)
          .attr("stroke", "#000").attr("stroke-width", 1);
        svg.append("text").attr("x", xC(c)).attr("y", p.tickY).attr("text-anchor", "middle")
          .attr("font-family", FONT).attr("font-size", 13.5).attr("fill", "#222").text(String(c));
      });

      // titles and labels
      svg.append("text").attr("x", (L0 + L1) / 2).attr("y", p.titleY).attr("text-anchor", "middle")
        .attr("font-family", FONT).attr("font-size", 17).attr("fill", "#222").text(p.title);

      const xl = svg.append("text").attr("x", (R0 + R1) / 2).attr("y", p.xlabY).attr("text-anchor", "middle")
        .attr("font-family", FONT).attr("font-size", 14).attr("fill", "#222");
      xl.append("tspan").text("Data distribution [bin");
      xl.append("tspan").attr("dy", -6).attr("font-size", 10).text("\u22121");
      xl.append("tspan").attr("dy", 6).text("]");

      if (p.dates) {
        svg.append("text").attr("x", (L0 + L1) / 2).attr("y", 553).attr("text-anchor", "middle")
          .attr("font-family", FONT).attr("font-size", 13.5).attr("fill", "#222").text("Dates");
      }

      // legend
      const lx = 884.3, ly = p.top + 6.7;
      const lg = svg.append("g");
      lg.append("rect").attr("x", lx).attr("y", ly).attr("width", 225.7).attr("height", 48)
        .attr("rx", 3).attr("fill", "#fff").attr("fill-opacity", 0.8).attr("stroke", "#d0d0d0");
      [YELLOW, BLUE].forEach((col, i) => {
        const cy = ly + 12.5 + i * 22;
        lg.append("line").attr("x1", lx + 5).attr("x2", lx + 34).attr("y1", cy).attr("y2", cy)
          .attr("stroke", col).attr("stroke-width", 1.8).attr("stroke-dasharray", "6,3.5");
        lg.append("text").attr("x", lx + 50).attr("y", cy).attr("dy", "0.36em")
          .attr("font-family", FONT).attr("font-size", 14).attr("fill", "#222")
          .style("white-space", "pre")
          .text(`${seriesNames[i]}, Mean Bias:  ${p.bias[i].toFixed(2)}`);
      });
    });

    svg.append("text")
      .attr("transform", `translate(23,116) rotate(-90)`)
      .attr("text-anchor", "middle").attr("font-family", FONT).attr("font-size", 14).attr("fill", "#222")
      .attr("textLength", 203).attr("lengthAdjust", "spacingAndGlyphs")
      .text("Data Residuals [ppm]");
  }, []);

  return (
    <svg
      ref={ref}
      width={1131}
      height={560}
      style={{ position: "absolute", left: 0, top: 0, background: "#fff" }}
    />
  );
}
